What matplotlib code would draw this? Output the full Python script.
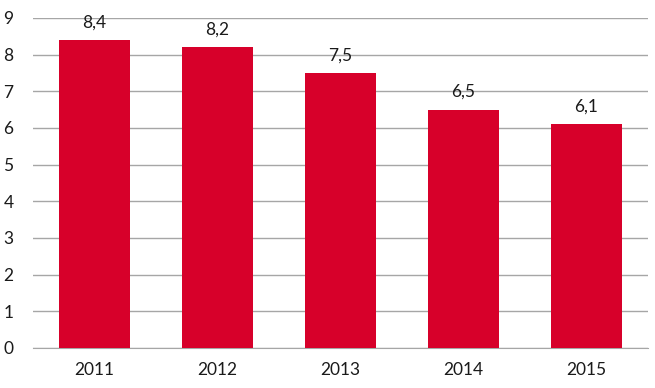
import matplotlib
matplotlib.use("Agg")
import matplotlib.pyplot as plt

years = ["2011", "2012", "2013", "2014", "2015"]
values = [8.4, 8.2, 7.5, 6.5, 6.1]
labels = ["8,4", "8,2", "7,5", "6,5", "6,1"]

plt.rcParams['font.family'] = ['Lato', 'DejaVu Sans']

fig = plt.figure(figsize=(6.55, 3.88), dpi=100)
ax = fig.add_axes([33/655, 40/388, 615/655, 330/388])
x = range(len(years))
bars = ax.bar(x, values, width=0.57, color='#D7002A', zorder=3)
for xi, v, lab in zip(x, values, labels):
    ax.annotate(lab, (xi, v), xytext=(0, 7), textcoords='offset points',
                ha='center', va='bottom', fontsize=12.5, color='#1a1a1a')
ax.set_xlim(-0.5, len(years) - 0.5)
ax.set_ylim(0, 9)
ax.set_yticks(range(0, 10))
ax.set_xticks(list(x))
ax.set_xticklabels(years)
ax.yaxis.grid(True, color='#a6a6a6', linewidth=1, zorder=0)
for s in ['top', 'right', 'left']:
    ax.spines[s].set_visible(False)
ax.spines['bottom'].set_color('#a6a6a6')
ax.tick_params(axis='both', length=0, labelsize=12.5, colors='#1a1a1a')
ax.tick_params(axis='y', pad=14)
ax.tick_params(axis='x', pad=10)
fig.savefig("out.png", dpi=100)
